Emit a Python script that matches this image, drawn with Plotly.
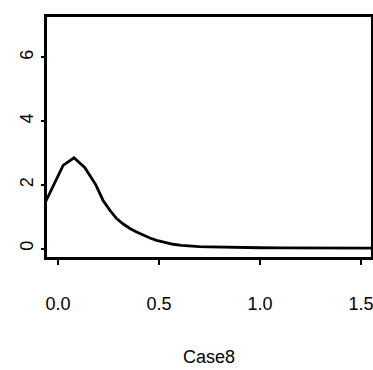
import plotly.graph_objects as go

x_vals = [-0.083, -0.029, 0.025, 0.079, 0.133, 0.187, 0.223, 0.257, 0.290, 0.323,
          0.356, 0.389, 0.422, 0.455, 0.488, 0.529, 0.570, 0.611, 0.653, 0.700,
          0.752, 0.810, 0.870, 0.940, 1.000, 1.100, 1.200, 1.300, 1.400, 1.500,
          1.600]
density = [1.19, 1.90, 2.61, 2.85, 2.54, 2.00, 1.51, 1.20, 0.94, 0.77,
           0.63, 0.52, 0.42, 0.33, 0.26, 0.19, 0.135, 0.10, 0.075, 0.06,
           0.05, 0.04, 0.035, 0.03, 0.025, 0.02, 0.02, 0.015, 0.012, 0.01,
           0.01]
x_ticks = [0.0, 0.5, 1.0, 1.5]
x_tick_labels = ["0.0", "0.5", "1.0", "1.5"]
y_ticks = [0, 2, 4, 6]
y_tick_labels = ["0", "2", "4", "6"]
x_title = "Case8"

fig = go.Figure()
fig.add_trace(go.Scatter(x=x_vals, y=density, mode="lines",
                         line=dict(color="black", width=2.8), showlegend=False))

font = dict(family="Liberation Sans, Arial, sans-serif", size=18, color="black")

fig.update_layout(
    width=373, height=370,
    margin=dict(l=47, r=2, t=17, b=113),
    paper_bgcolor="white", plot_bgcolor="white",
    font=font,
    xaxis=dict(range=[-0.0548, 1.550], tickvals=x_ticks, ticktext=x_tick_labels,
               ticks="outside", ticklen=5, tickwidth=2, tickcolor="black",
               showline=True, linecolor="black", linewidth=2.8, mirror=True,
               showgrid=False, zeroline=False, ticklabelstandoff=23,
               ticklabeloverflow="allow", automargin=False,
               title=dict(text=x_title, standoff=38, font=font)),
    yaxis=dict(range=[-0.265, 7.27], tickvals=y_ticks, ticktext=y_tick_labels,
               ticks="outside", ticklen=3, tickwidth=2, tickcolor="black",
               showline=True, linecolor="black", linewidth=2.8, mirror=True,
               showgrid=False, zeroline=False, tickangle=-90, ticklabelstandoff=1,
               ticklabeloverflow="allow", automargin=False),
)

fig.write_html("out.html", config={"displayModeBar": False},
               post_script="document.body.style.margin='0';document.body.style.overflow='hidden';")
